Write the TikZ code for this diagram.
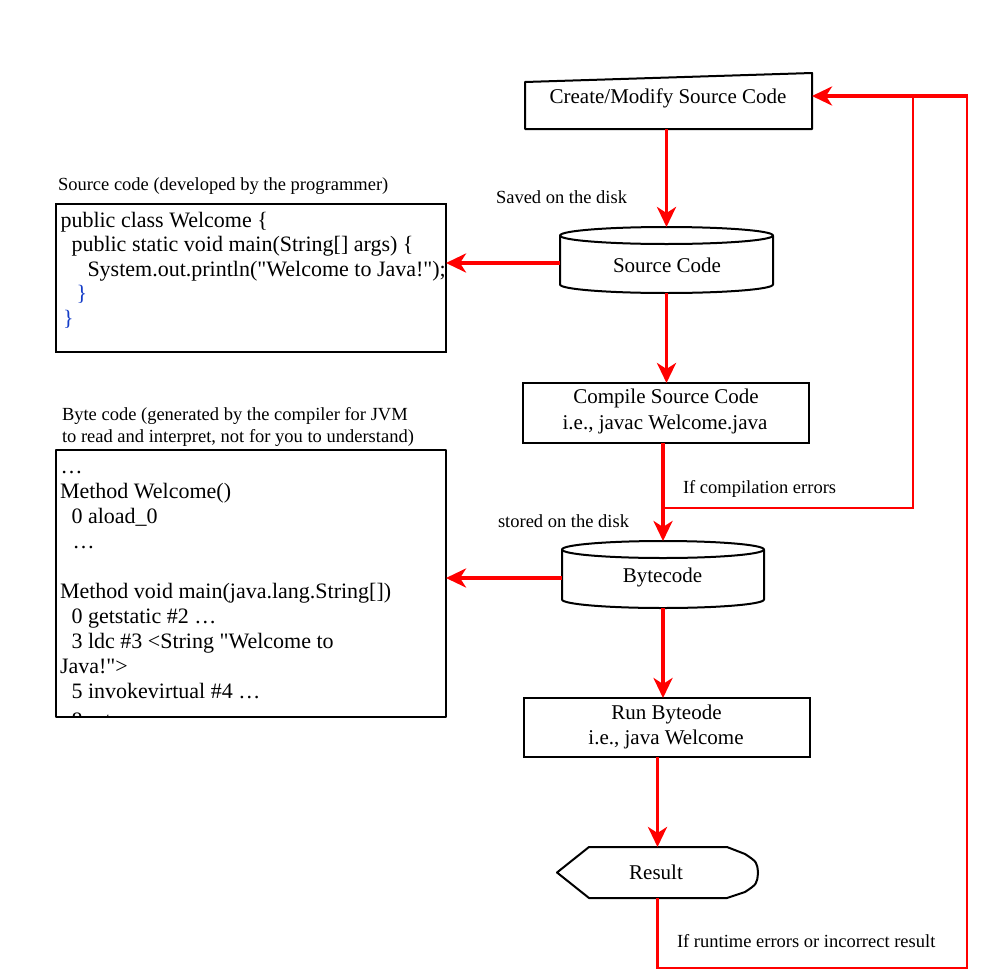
\documentclass[tikz,border=0pt]{standalone}
\usepackage{fontspec}
\setmainfont{Liberation Serif}[Ligatures=TeXOff]
\usetikzlibrary{arrows.meta,calc}
\definecolor{bracecol}{RGB}{20,60,200}
\definecolor{flowred}{RGB}{255,0,0}
\tikzset{
  every node/.style={inner sep=0pt, outer sep=0pt},
  holder/.style={rectangle, draw=none},
  framebox/.style={rectangle, draw=black, line width=2pt},
  outline/.style={draw=black, line width=2pt, line join=round},
  boxtext/.style={font=\fontsize{21}{25}\selectfont, anchor=base},
  codetext/.style={font=\fontsize{22}{25}\selectfont, anchor=base west},
  labeltext/.style={font=\fontsize{18.5}{22}\selectfont, anchor=base west},
  arr/.style={draw=flowred, line width=3.6pt, -{Stealth[length=20pt,width=19pt,inset=6pt]}},
  retline/.style={draw=flowred, line width=2.3pt},
  branchline/.style={draw=flowred, line width=1.4pt},
}
\newcommand\drawcyl[3]{% node, x radius, y radius
  \draw[outline] ($(#1.north west)+(0,#3)$) -- ($(#1.south west)+(0,-#3)$)
     arc[start angle=180, end angle=0, x radius=#2, y radius=#3]
     -- ($(#1.north east)+(0,#3)$);
  \draw[outline] ($(#1.north)+(0,#3)$) ellipse[x radius=#2, y radius=#3];
}
\begin{document}
\begin{tikzpicture}[x=1pt,y=-1pt]
\fill[white] (0,0) rectangle (980,980);
\useasboundingbox (0,0) rectangle (980,980);

% ---------- shapes ----------
\node[holder, minimum width=287pt, minimum height=56pt] (create) at (668.5,101) {};
\draw[outline] (create.south west) -- (create.south east) -- (create.north east)
   -- ($(create.north west)+(0,9)$) -- cycle;
\node[boxtext] (createtxt) at (668,103) {Create/Modify Source Code};

\node[holder, minimum width=213pt, minimum height=66pt] (sc) at (666.5,260) {};
\drawcyl{sc}{106.5}{8.5}
\node[boxtext] (sctxt) at (667,272) {Source Code};

\node[framebox, minimum width=286pt, minimum height=60pt] (compile) at (665.5,413) {};
\node[boxtext] (comp1) at (666,403) {Compile Source Code};
\node[boxtext] (comp2) at (665,429) {i.e., javac Welcome.java};

\node[holder, minimum width=202pt, minimum height=67pt] (bc) at (663,574.5) {};
\drawcyl{bc}{101}{8.5}
\node[boxtext] (bctxt) at (662.5,582) {Bytecode};

\node[framebox, minimum width=286pt, minimum height=59pt] (run) at (667,727.5) {};
\node[boxtext] (run1) at (666.5,719) {Run Byteode};
\node[boxtext] (run2) at (666,744) {i.e., java Welcome};

\node[holder, minimum width=201pt, minimum height=51pt] (res) at (657.5,872.5) {};
\draw[outline] (res.west) -- ($(res.north west)+(32,0)$) -- ($(res.north east)+(-31,0)$)
  -- ($(res.north east)+(-13,7)$) .. controls ($(res.north east)+(-1,15)$) .. (res.east)
  .. controls ($(res.south east)+(-1,-14)$) .. ($(res.south east)+(-13,-6)$)
  -- ($(res.south east)+(-31,0)$) -- ($(res.south west)+(32,0)$) -- cycle;
\node[boxtext] (restxt) at (656,879) {Result};

% ---------- source code box ----------
\node[labeltext] (srclabel) at (58,190) {Source code (developed by the programmer)};
\node[framebox, minimum width=390pt, minimum height=148pt] (src) at (251,277.5) {};
\node[codetext] (s1) at (60.5,227) {public class Welcome \{};
\node[codetext] (s2) at (71.5,251.5) {public static void main(String[] args) \{};
\node[codetext] (s3) at (87.5,276) {System.out.println("Welcome to Java!");};
\node[codetext, text=bracecol] (s4) at (76.5,300.5) {\}};
\node[codetext, text=bracecol] (s5) at (63,325) {\}};

% ---------- byte code box ----------
\node[labeltext] (bytelabel1) at (62,420) {Byte code (generated by the compiler for JVM};
\node[labeltext] (bytelabel2) at (62,442) {to read and interpret, not for you to understand)};
\node[holder, minimum width=390pt, minimum height=267pt] (byte) at (251,583.5) {};
\begin{scope}
  \clip (57,451) rectangle (445,716);
  \node[codetext] (b1) at (60.5,473) {…};
  \node[codetext] (b2) at (60,498) {Method Welcome()};
  \node[codetext] (b3) at (71.5,523) {0 aload\_0};
  \node[codetext] (b4) at (72.5,548) {…};
  \node[codetext] (b5) at (60,598) {Method void main(java.lang.String[])};
  \node[codetext] (b6) at (71.5,623) {0 getstatic \#2 …};
  \node[codetext] (b7) at (71.5,648) {3 ldc \#3 <String "Welcome to};
  \node[codetext] (b8) at (60,673) {Java!">};
  \node[codetext] (b9) at (71.5,698) {5 invokevirtual \#4 …};
  \node[codetext] (b10) at (71.5,727) {8 return};
\end{scope}
\draw[outline] (byte.south west) rectangle (byte.north east);

% ---------- labels ----------
\node[labeltext] (saved) at (496,203) {Saved on the disk};
\node[labeltext] (stored) at (498,527) {stored on the disk};
\node[labeltext] (ifcomp) at (683,493) {If compilation errors};
\node[labeltext] (ifrun) at (677,947) {If runtime errors or incorrect result};

% ---------- connectors ----------
\coordinate (brk) at (663,508);
\coordinate (brt) at (913,96);
\coordinate (lc) at (967,968);
\coordinate (rc) at (967,96);
\coordinate (scw) at ($(sc.west)+(0,3)$);
\coordinate (bcw) at ($(bc.west)+(0,3.5)$);

\draw[branchline] (brk) -| (brt);
\draw[retline] (res.south) |- (lc) -- (rc);

\draw[arr] (create.south -| sc.north) -- (sc.north);
\draw[arr] (scw) -- (scw -| src.east);
\draw[arr] (sc.south) -- (sc.south |- compile.north);
\draw[arr] (compile.south -| bc.north) -- (bc.north);
\draw[arr] (bcw) -- (bcw -| byte.east);
\draw[arr] (bc.south) -- (bc.south |- run.north);
\draw[arr] (run.south -| res.north) -- (res.north);
\draw[arr] ([xshift=1pt]rc) -- (rc -| create.east);
\end{tikzpicture}
\end{document}
